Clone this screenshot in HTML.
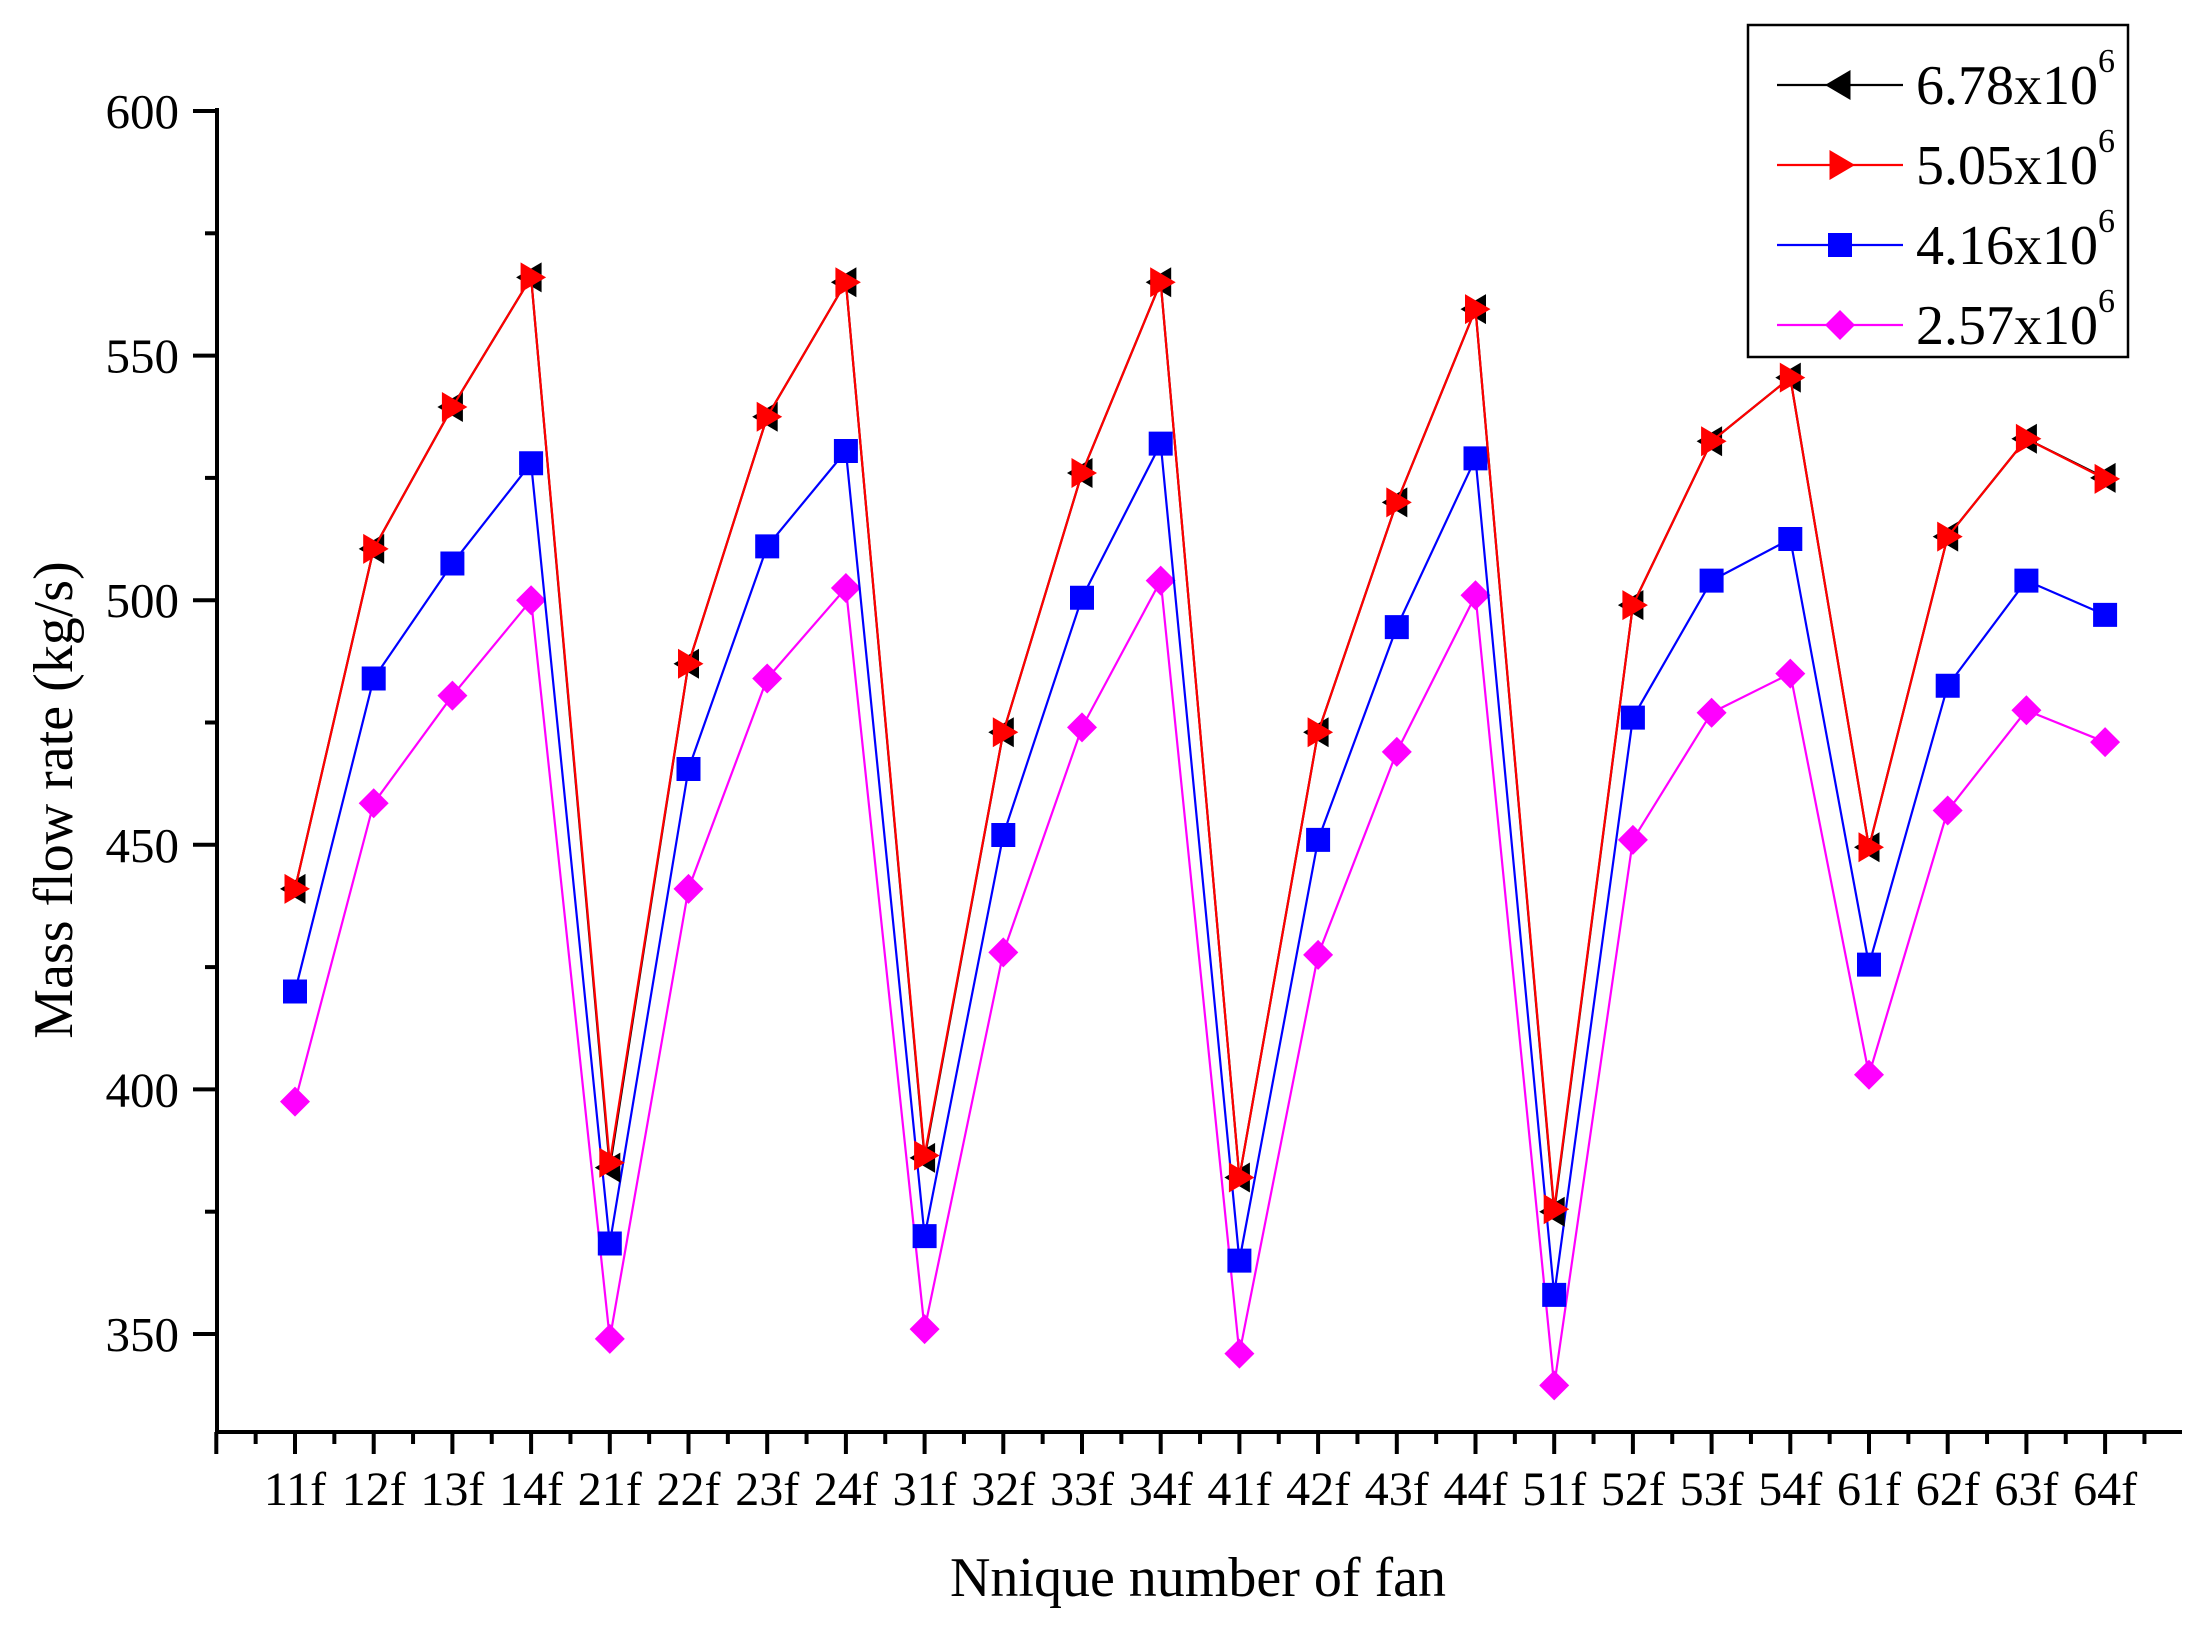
<!DOCTYPE html>
<html><head><meta charset="utf-8"><style>
html,body{margin:0;padding:0;background:#fff;}
svg{display:block;font-family:"Liberation Serif",serif;}
</style></head><body>
<svg id="chart" width="2204" height="1632" viewBox="0 0 2204 1632" xmlns="http://www.w3.org/2000/svg">
<rect width="2204" height="1632" fill="#fff"/>
<g id="axes"></g>
<g id="series"></g>
<text x="1198" y="1596" font-size="56" text-anchor="middle">Nnique number of fan</text>
<text transform="translate(72,800) rotate(-90)" font-size="56" text-anchor="middle">Mass flow rate (kg/s)</text>
<g>
<rect x="1748" y="25" width="380" height="332" fill="#fff" stroke="#000" stroke-width="2.5"/>
<g id="legend-items"></g>
</g>
</svg>
<script>
const categories = ["11f","12f","13f","14f","21f","22f","23f","24f","31f","32f","33f","34f","41f","42f","43f","44f","51f","52f","53f","54f","61f","62f","63f","64f"];
const seriesNames = ["6.78","5.05","4.16","2.57"];
const s678 = [441,510.5,539.5,566,384,487,537.5,565,386,473,526,565,382,473,520,559.5,375,499,532.5,545.5,449.5,513,533,525];
const s505 = [441,510.5,539.5,566,385,487,537.5,565,386.5,473,526,565,382,473,520,559.5,375.5,499,532.5,545.5,449.5,513,533,524.8];
const s416 = [420,484,507.5,528,368.5,465.5,511,530.5,370,452,500.5,532,365,451,494.5,529,358,476,504,512.5,425.5,482.5,504,497];
const s257 = [397.5,458.5,480.5,500,349,441,484,502.5,351,428,474,504,346,427.5,469,501,339.5,451,477,485,403,457,477.5,471];
const yTicks = [350,400,450,500,550,600];

const NS="http://www.w3.org/2000/svg";
function mk(tag,attrs,parent){const e=document.createElementNS(NS,tag);for(const k in attrs)e.setAttribute(k,attrs[k]);parent.appendChild(e);return e;}
const X0=217, XEND=2182, YB=1432;
function xs(i){return 295+i*78.7;}
function ys(v){return 111+(600-v)*4.892;}

const axes=document.getElementById('axes');
let l=mk('line',{x1:X0,y1:YB,x2:XEND,y2:YB,stroke:'#000','stroke-width':4},axes);


l=mk('line',{x1:X0,y1:108,x2:X0,y2:YB+2,stroke:'#000','stroke-width':4},axes);


yTicks.forEach(v=>{
  const y=ys(v);
  mk('line',{x1:X0-24,y1:y,x2:X0,y2:y,stroke:'#000','stroke-width':4},axes);
  const t=mk('text',{x:X0-38,y:y+17,'font-size':49,'text-anchor':'end'},axes);
  t.textContent=v;
  
  
  if(v>350){const ym=ys(v-25);mk('line',{x1:X0-12,y1:ym,x2:X0,y2:ym,stroke:'#000','stroke-width':4},axes);}
});
for(let i=-1;i<=24;i++){
  const x=xs(i);
  if(x>=X0-1&&x<=XEND) mk('line',{x1:x,y1:YB,x2:x,y2:YB+22,stroke:'#000','stroke-width':4},axes);
  const xm=xs(i)+39.35;
  if(xm>X0&&xm<=XEND) mk('line',{x1:xm,y1:YB,x2:xm,y2:YB+12,stroke:'#000','stroke-width':4},axes);
}
categories.forEach((c,i)=>{
  const t=mk('text',{x:xs(i),y:1505,'font-size':48,'text-anchor':'middle'},axes);
  t.textContent=c;
  
  
});

function marker(type,x,y,color,parent){
  const r=15;let p;
  if(type==='left') p=`${x-r},${y} ${x+r*0.7},${y-r} ${x+r*0.7},${y+r}`;
  else if(type==='right') p=`${x+r},${y} ${x-r*0.7},${y-r} ${x-r*0.7},${y+r}`;
  else if(type==='diamond') p=`${x},${y-r} ${x+r},${y} ${x},${y+r} ${x-r},${y}`;
  else p=`${x-12},${y-12} ${x+12},${y-12} ${x+12},${y+12} ${x-12},${y+12}`;
  return mk('polygon',{points:p,fill:color},parent);
}
const defs=[[s678,'#000','left'],[s505,'#ff0000','right'],[s416,'#0000ff','square'],[s257,'#ff00ff','diamond']];
const sg=document.getElementById('series');
[3,2,0,1].forEach(k=>{
  const [vals,col,type]=defs[k];
  const g=mk('g',{},sg);
  
  
  const pts=vals.map((v,i)=>xs(i)+','+ys(v)).join(' ');
  const pl=mk('polyline',{points:pts,fill:'none',stroke:col,'stroke-width':2.2},g);
  
  
  vals.forEach((v,i)=>{
    const m=marker(type,xs(i),ys(v),col,g);
    
    
  });
});
const lg=document.getElementById('legend-items');
defs.forEach(([vals,col,type],k)=>{
  const y=85+k*80;
  const g=mk('g',{},lg);
  
  
  mk('line',{x1:1777,y1:y,x2:1903,y2:y,stroke:col,'stroke-width':2.2},g);
  marker(type,1840,y,col,g);
  const t=mk('text',{x:1916,y:y+19,'font-size':56},g);
  t.textContent=seriesNames[k]+'x10';
  const sup=mk('tspan',{'font-size':34,dy:-32},t);
  sup.textContent='6';
});
</script>
</body></html>
